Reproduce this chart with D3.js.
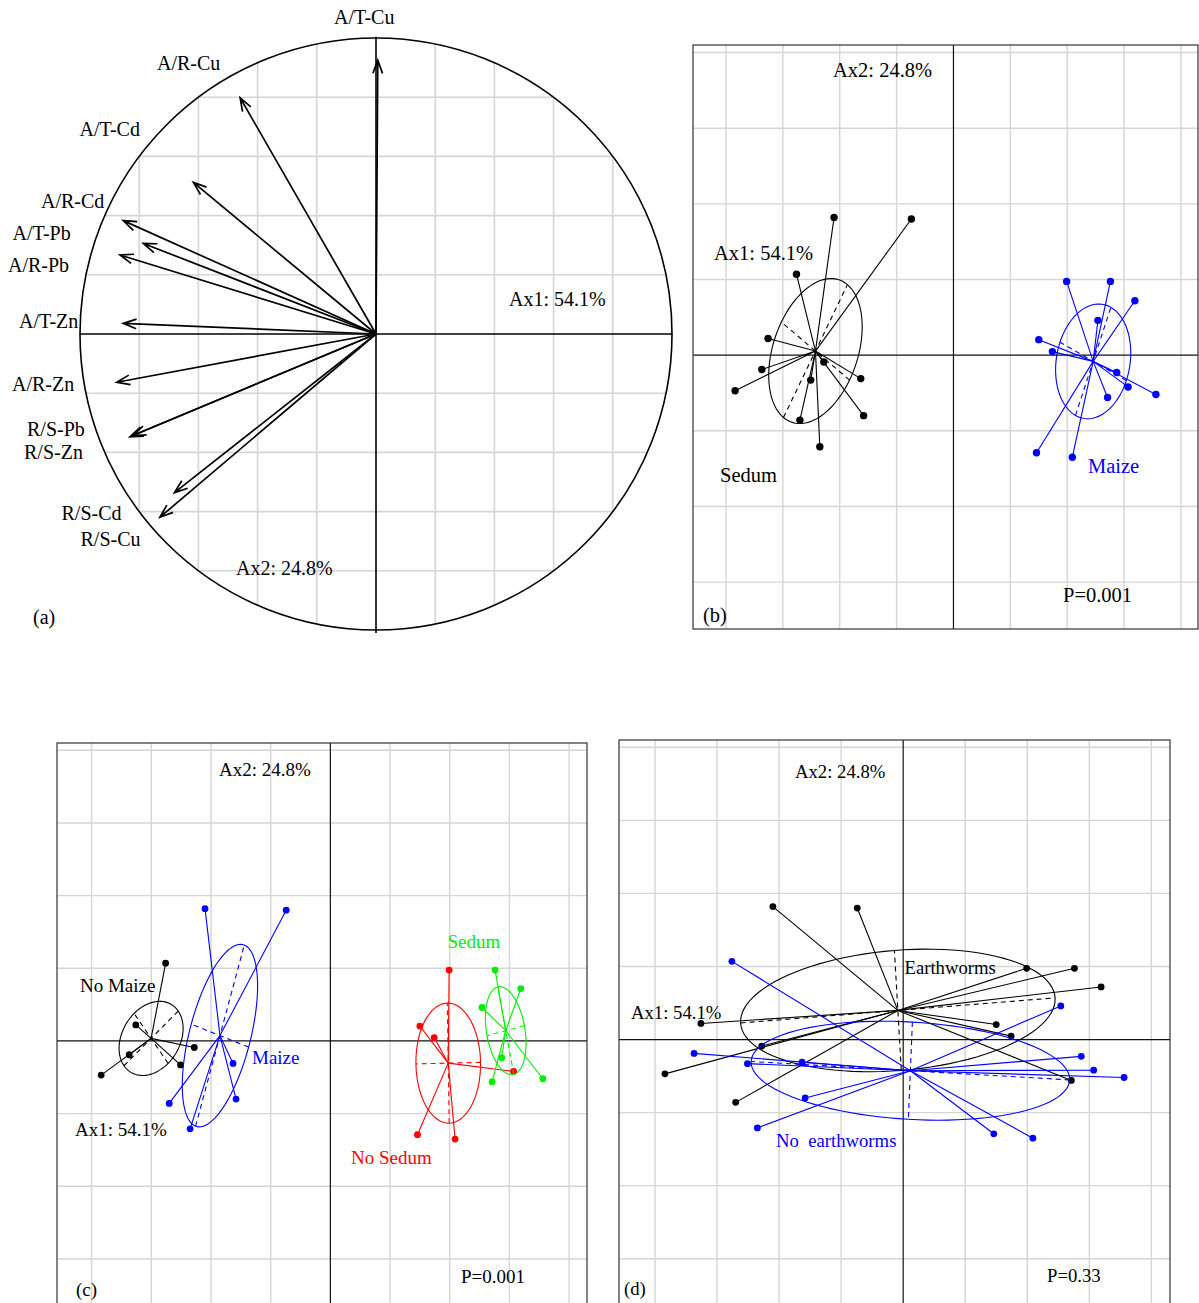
<!DOCTYPE html>
<html>
<head>
<meta charset="utf-8">
<script src="https://cdn.jsdelivr.net/npm/d3@7"></script>
<style>
  html, body { margin: 0; padding: 0; background: #fff; }
  svg { display: block; font-family: "Liberation Serif", "DejaVu Serif", serif; }
</style>
</head>
<body>
<svg id="fig" width="1199" height="1303"></svg>
<script>
// ---------------------------------------------------------------
// Correlation circle (panel a): variables and their loadings
// ---------------------------------------------------------------
const variables = ["A/T-Cu", "A/R-Cu", "A/T-Cd", "A/R-Cd", "A/T-Pb", "A/R-Pb",
                   "A/T-Zn", "A/R-Zn", "R/S-Pb", "R/S-Zn", "R/S-Cd", "R/S-Cu"];
const loadAx1 = [0.006, -0.459, -0.617, -0.854, -0.786, -0.865,
                 -0.854, -0.876, -0.831, -0.822, -0.681, -0.730];
const loadAx2 = [0.925, 0.798, 0.512, 0.383, 0.306, 0.267,
                 0.036, -0.163, -0.347, -0.343, -0.536, -0.619];

// ---------------------------------------------------------------
// Sample scores on the first two axes (panels b, c, d)
// ---------------------------------------------------------------
const samples = ["S1","S2","S3","S4","S5","S6","S7","S8","S9","S10","S11","S12",
                 "M1","M2","M3","M4","M5","M6","M7","M8","M9","M10","M11","M12"];
const scoreAx1 = [-2.10, -0.74, -2.76, -3.26, -3.37, -3.84, -2.28, -2.51, -1.63, -1.58, -2.70, -2.35,
                   1.99,  2.76,  3.19,  2.54,  1.50,  1.74,  2.87,  3.07,  3.56,  2.71,  1.46,  2.09];
const scoreAx2 = [ 1.82,  1.80,  1.07,  0.22, -0.19, -0.47, -0.09, -0.33, -0.31, -0.80, -0.86, -1.21,
                   0.975, 0.975, 0.72,  0.46,  0.205, 0.047, -0.23, -0.42, -0.52, -0.56, -1.29, -1.35];

// Grouping factors
const plant = ["Sedum","Sedum","Sedum","Sedum","Sedum","Sedum","Sedum","Sedum","Sedum","Sedum","Sedum","Sedum",
               "Maize","Maize","Maize","Maize","Maize","Maize","Maize","Maize","Maize","Maize","Maize","Maize"];
const cropping = ["Maize","Maize","No Maize","No Maize","No Maize","No Maize","No Maize","No Maize","Maize","Maize","Maize","Maize",
                  "No Sedum","Sedum","Sedum","Sedum","No Sedum","No Sedum","Sedum","No Sedum","Sedum","Sedum","No Sedum","No Sedum"];
const earthworm = ["Earthworms","Earthworms","No earthworms","Earthworms","No earthworms","Earthworms",
                   "Earthworms","No earthworms","No earthworms","No earthworms","Earthworms","No earthworms",
                   "Earthworms","Earthworms","Earthworms","No earthworms","Earthworms","Earthworms",
                   "No earthworms","No earthworms","No earthworms","Earthworms","No earthworms","No earthworms"];

// Axis inertia labels and permutation-test results
const axisLabels = ["Ax1: 54.1%", "Ax2: 24.8%"];
const pValues = ["P=0.001", "P=0.001", "P=0.33"];

// ---------------------------------------------------------------
const svg = d3.select("#fig");
const GRID = "#d5d5d5";

// ===================== Panel (a) =====================
(function drawCircle() {
  const x = d3.scaleLinear().domain([-1, 1]).range([80, 672]);
  const y = d3.scaleLinear().domain([-1, 1]).range([630, 38]);
  const g = svg.append("g");
  const r = x(1) - x(0);

  // grid segments clipped to the unit circle
  const ticks = d3.range(-4, 5).filter(k => k !== 0).map(k => k / 5);
  ticks.forEach(v => {
    const c = Math.sqrt(1 - v * v);
    g.append("line").attr("x1", x(v)).attr("x2", x(v)).attr("y1", y(c)).attr("y2", y(-c))
      .attr("stroke", GRID).attr("stroke-width", 1.6);
    g.append("line").attr("x1", x(-c)).attr("x2", x(c)).attr("y1", y(v)).attr("y2", y(v))
      .attr("stroke", GRID).attr("stroke-width", 1.6);
  });

  g.append("circle").attr("cx", x(0)).attr("cy", y(0)).attr("r", r)
    .attr("fill", "none").attr("stroke", "#000").attr("stroke-width", 1.6);
  g.append("line").attr("x1", x(-1)).attr("x2", x(1)).attr("y1", y(0)).attr("y2", y(0))
    .attr("stroke", "#000").attr("stroke-width", 1.6);
  g.append("line").attr("x1", x(0)).attr("x2", x(0)).attr("y1", y(1.004)).attr("y2", y(-1.01))
    .attr("stroke", "#000").attr("stroke-width", 1.6);

  // arrows with open heads
  const headLen = 14, headAng = 20 * Math.PI / 180;
  variables.forEach((v, i) => {
    const x0 = x(0), y0 = y(0), x1 = x(loadAx1[i]), y1 = y(loadAx2[i]);
    const ang = Math.atan2(y1 - y0, x1 - x0);
    const p = d3.path();
    p.moveTo(x0, y0); p.lineTo(x1, y1);
    p.moveTo(x1 - headLen * Math.cos(ang - headAng), y1 - headLen * Math.sin(ang - headAng));
    p.lineTo(x1, y1);
    p.lineTo(x1 - headLen * Math.cos(ang + headAng), y1 - headLen * Math.sin(ang + headAng));
    g.append("path").attr("d", p.toString()).attr("fill", "none")
      .attr("stroke", "#000").attr("stroke-width", 1.7);
  });

  // variable labels (left edge, baseline) laid out around the circle
  const labelPos = [[334, 24], [157, 70], [79.5, 136], [41, 207.5], [12.5, 240], [8, 272],
                    [19, 328], [12, 391], [27, 436], [24, 458.5], [61.5, 519.5], [80.5, 546]];
  const fs = 20;
  variables.forEach((v, i) => {
    g.append("text").attr("x", labelPos[i][0]).attr("y", labelPos[i][1])
      .attr("font-size", fs).text(v);
  });
  g.append("text").attr("x", 509).attr("y", 306).attr("font-size", fs).text(axisLabels[0]);
  g.append("text").attr("x", 236).attr("y", 575).attr("font-size", fs).text(axisLabels[1]);
  g.append("text").attr("x", 33).attr("y", 623.5).attr("font-size", fs).text("(a)");
})();

// ===================== Panels (b), (c), (d) =====================
const xDomain = [-4.58, 4.30], yDomain = [-3.62, 4.10];

function stats(idx) {
  const n = idx.length;
  const mx = d3.mean(idx, i => scoreAx1[i]);
  const my = d3.mean(idx, i => scoreAx2[i]);
  let vx = 0, vy = 0, cxy = 0;
  idx.forEach(i => {
    const dx = scoreAx1[i] - mx, dy = scoreAx2[i] - my;
    vx += dx * dx; vy += dy * dy; cxy += dx * dy;
  });
  vx /= n; vy /= n; cxy /= n;
  const delta = Math.sqrt((vx - vy) * (vx - vy) + 4 * cxy * cxy);
  const l1 = (vx + vy + delta) / 2, l2 = Math.max(0, (vx + vy - delta) / 2);
  let ux, uy;
  if (Math.abs(cxy) < 1e-12) { if (vx >= vy) { ux = 1; uy = 0; } else { ux = 0; uy = 1; } }
  else { ux = cxy; uy = l1 - vx; const nn = Math.hypot(ux, uy); ux /= nn; uy /= nn; }
  return { mx, my, a: Math.sqrt(l1), b: Math.sqrt(l2), ux, uy };
}

function drawClassPanel(spec) {
  const [bx0, by0, bx1, by1] = spec.box;
  const x = d3.scaleLinear().domain(xDomain).range([bx0, bx1]);
  const y = d3.scaleLinear().domain(yDomain).range([by1, by0]);
  const g = svg.append("g");
  g.append("clipPath").attr("id", "clip-" + spec.id)
    .append("rect").attr("x", bx0).attr("y", by0).attr("width", bx1 - bx0).attr("height", by1 - by0);
  const inner = g.append("g").attr("clip-path", `url(#clip-${spec.id})`);

  // unit grid
  d3.range(Math.ceil(xDomain[0]), Math.floor(xDomain[1]) + 1).filter(v => v !== 0).forEach(v => {
    inner.append("line").attr("x1", x(v)).attr("x2", x(v)).attr("y1", by0).attr("y2", by1)
      .attr("stroke", GRID).attr("stroke-width", 1.4);
  });
  d3.range(Math.ceil(yDomain[0]), Math.floor(yDomain[1]) + 1).filter(v => v !== 0).forEach(v => {
    inner.append("line").attr("x1", bx0).attr("x2", bx1).attr("y1", y(v)).attr("y2", y(v))
      .attr("stroke", GRID).attr("stroke-width", 1.4);
  });
  // axes through the origin
  inner.append("line").attr("x1", bx0).attr("x2", bx1).attr("y1", y(0)).attr("y2", y(0))
    .attr("stroke", "#111").attr("stroke-width", 1.2);
  inner.append("line").attr("x1", x(0)).attr("x2", x(0)).attr("y1", by0).attr("y2", by1)
    .attr("stroke", "#111").attr("stroke-width", 1.2);

  // groups: stars, ellipses and ellipse axes
  spec.levels.forEach((lev, k) => {
    const col = spec.colors[k];
    const idx = d3.range(samples.length).filter(i => spec.factor[i] === lev);
    const s = stats(idx);
    const gg = inner.append("g");

    idx.forEach(i => {
      gg.append("line").attr("x1", x(s.mx)).attr("y1", y(s.my))
        .attr("x2", x(scoreAx1[i])).attr("y2", y(scoreAx2[i]))
        .attr("stroke", col).attr("stroke-width", 1.1);
    });

    const vx = -s.uy, vy = s.ux;
    const ell = d3.range(0, 101).map(t => {
      const th = t / 100 * 2 * Math.PI;
      const px = s.mx + s.a * Math.cos(th) * s.ux + s.b * Math.sin(th) * vx;
      const py = s.my + s.a * Math.cos(th) * s.uy + s.b * Math.sin(th) * vy;
      return [x(px), y(py)];
    });
    gg.append("path").attr("d", d3.line()(ell)).attr("fill", "none")
      .attr("stroke", col).attr("stroke-width", 1.1);

    [[s.a * s.ux, s.a * s.uy], [s.b * vx, s.b * vy]].forEach(([dx, dy]) => {
      gg.append("line").attr("x1", x(s.mx - dx)).attr("y1", y(s.my - dy))
        .attr("x2", x(s.mx + dx)).attr("y2", y(s.my + dy))
        .attr("stroke", col).attr("stroke-width", 1.1).attr("stroke-dasharray", "5,4");
    });

    idx.forEach(i => {
      gg.append("circle").attr("cx", x(scoreAx1[i])).attr("cy", y(scoreAx2[i]))
        .attr("r", spec.pointR).attr("fill", col);
    });
  });

  // frame
  g.append("rect").attr("x", bx0).attr("y", by0).attr("width", bx1 - bx0).attr("height", by1 - by0)
    .attr("fill", "none").attr("stroke", "#333").attr("stroke-width", 1.2);

  // annotations (offsets from the frame's top-left corner)
  spec.texts.forEach(t => {
    g.append("text").attr("x", bx0 + t.dx).attr("y", by0 + t.dy)
      .attr("font-size", spec.fontSize).attr("fill", t.color || "#000")
      .attr("xml:space", "preserve").style("white-space", "pre").text(t.text);
  });
}

drawClassPanel({
  id: "b", box: [693, 45, 1198, 629], factor: plant,
  levels: ["Sedum", "Maize"], colors: ["#000000", "#0000ff"], pointR: 3.7, fontSize: 20.5,
  texts: [
    { text: axisLabels[1], dx: 140, dy: 32 },
    { text: axisLabels[0], dx: 21, dy: 215 },
    { text: "Sedum", dx: 27, dy: 437 },
    { text: "Maize", dx: 395, dy: 428, color: "#0000ff" },
    { text: pValues[0], dx: 370, dy: 557 },
    { text: "(b)", dx: 10, dy: 577 }
  ]
});

drawClassPanel({
  id: "c", box: [57, 743, 587, 1304], factor: cropping,
  levels: ["No Maize", "Maize", "No Sedum", "Sedum"],
  colors: ["#000000", "#0000ff", "#ff0000", "#00ee00"], pointR: 3.4, fontSize: 19,
  texts: [
    { text: axisLabels[1], dx: 162, dy: 32.5 },
    { text: "No Maize", dx: 23, dy: 249 },
    { text: "Maize", dx: 195, dy: 320.5, color: "#0000ff" },
    { text: axisLabels[0], dx: 18, dy: 392.5 },
    { text: "Sedum", dx: 390.5, dy: 204.5, color: "#00ee00" },
    { text: "No Sedum", dx: 294, dy: 420.5, color: "#ff0000" },
    { text: pValues[1], dx: 404, dy: 539.5 },
    { text: "(c)", dx: 19, dy: 552.5 }
  ]
});

drawClassPanel({
  id: "d", box: [619, 740, 1170, 1304], factor: earthworm,
  levels: ["Earthworms", "No earthworms"], colors: ["#000000", "#0000ff"], pointR: 3.4, fontSize: 18.7,
  texts: [
    { text: axisLabels[1], dx: 176, dy: 38 },
    { text: "Earthworms", dx: 285.5, dy: 234 },
    { text: axisLabels[0], dx: 12, dy: 279 },
    { text: "No  earthworms", dx: 157, dy: 407, color: "#0000ff" },
    { text: pValues[2], dx: 428, dy: 542 },
    { text: "(d)", dx: 5, dy: 555 }
  ]
});
</script>
</body>
</html>
